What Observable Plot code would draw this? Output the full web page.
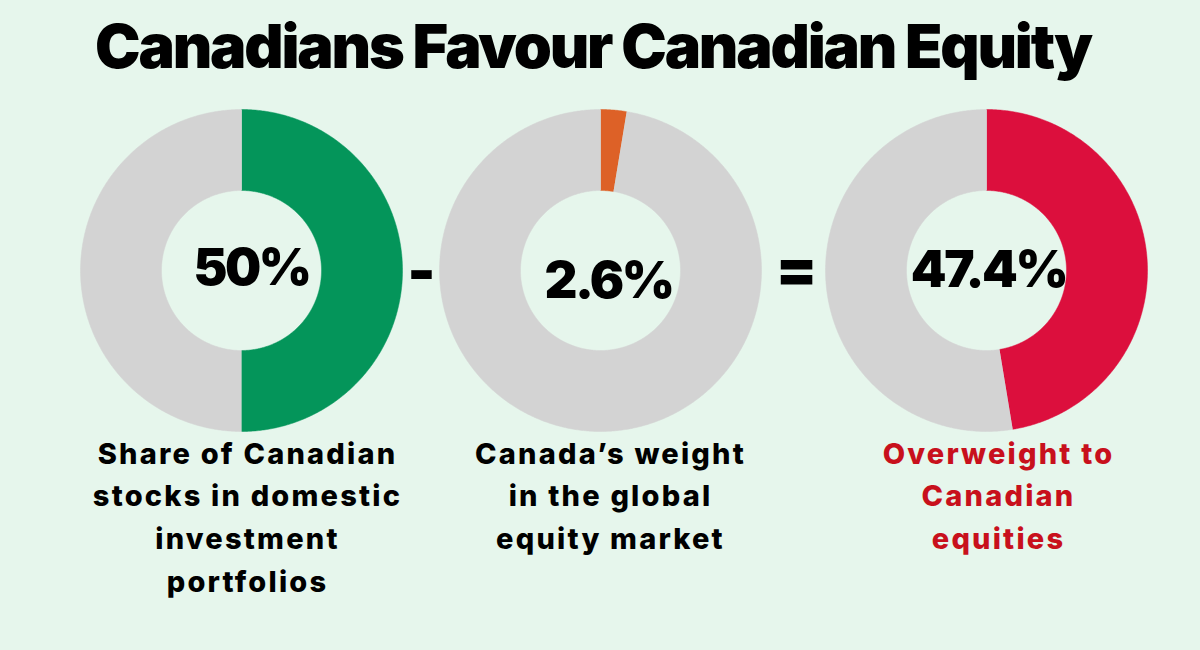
<!DOCTYPE html>
<html>
<head>
<meta charset="utf-8">
<script src="https://cdn.jsdelivr.net/npm/d3@7"></script>
<script src="https://cdn.jsdelivr.net/npm/@observablehq/plot@0.6"></script>
<style>
  html, body { margin: 0; padding: 0; background: #e6f6ec; width: 1200px; height: 650px; overflow: hidden; }
  #title { height: 92px; line-height: 92px; text-align: center; font-family: Inter, "Open Sans", sans-serif; font-weight: 900; font-size: 61px; color: #000; letter-spacing: -2.2px; padding-right: 14px; }
  #chart svg { display: block; }
</style>
</head>
<body>
<div id="title"></div>
<div id="chart"></div>
<script>
// ---- data ----
const titleText = "Canadians Favour Canadian Equity";
const shares = [50, 2.6, 47.4];
const shareLabels = ["50%", "2.6%", "47.4%"];
const descriptions = [
  "Share of Canadian\nstocks in domestic\ninvestment\nportfolios",
  "Canada’s weight\nin the global\nequity market",
  "Overweight to\nCanadian\nequities"
];
const accentColors = ["#04955a", "#dd6127", "#dc0f3d"];
const descColors = ["#000000", "#000000", "#c8101c"];
const operators = ["-", "="];

document.getElementById("title").textContent = titleText;

// ---- layout (page pixel coordinates) ----
const TOP = 92, W = 1200, H = 650;
const centersX = [241, 600, 986];
const centerY = 270;
const rOuter = 161, rInner = 80;
const labelX = [251, 608, 988];
const labelY = [268, 281, 270];
const descX = [247, 610, 998];
const descY = 433;
const opX = [421, 796];
const opY = [272, 270];
const rest = "#d3d3d3";

// build donut segment polygons from the share values
const polys = [];
shares.forEach((v, i) => {
  const segs = [
    {id: `a${i}`, a0: 0, a1: v / 100 * 2 * Math.PI, color: accentColors[i]},
    {id: `r${i}`, a0: v / 100 * 2 * Math.PI, a1: 2 * Math.PI, color: rest}
  ];
  for (const s of segs) {
    const n = Math.max(2, Math.ceil((s.a1 - s.a0) / (Math.PI / 360)));
    for (let k = 0; k <= n; k++) {
      const a = s.a0 + (s.a1 - s.a0) * k / n;
      polys.push({id: s.id, color: s.color, x: centersX[i] + rOuter * Math.sin(a), y: centerY - rOuter * Math.cos(a)});
    }
    for (let k = n; k >= 0; k--) {
      const a = s.a0 + (s.a1 - s.a0) * k / n;
      polys.push({id: s.id, color: s.color, x: centersX[i] + rInner * Math.sin(a), y: centerY - rInner * Math.cos(a)});
    }
  }
});

const centerTexts = shareLabels.map((t, i) => ({t, x: labelX[i], y: labelY[i]}));
const descTexts = descriptions.map((t, i) => ({t, x: descX[i], y: descY, c: descColors[i]}));
const opTexts = operators.map((t, i) => ({t, x: opX[i], y: opY[i]}));

const font = "Inter, 'Open Sans', sans-serif";

const plot = Plot.plot({
  width: W,
  height: H - TOP,
  margin: 0,
  style: {background: "transparent", fontFamily: font},
  x: {domain: [0, W], range: [0, W], axis: null},
  y: {domain: [TOP, H], range: [0, H - TOP], axis: null},
  marks: [
    Plot.line(polys, {x: "x", y: "y", z: "id", fill: "color", stroke: "color", strokeWidth: 0.5, curve: "linear"}),
    Plot.text(centerTexts, {x: "x", y: "y", text: "t", fontSize: 51, fontWeight: 900, fill: "#000", textAnchor: "middle", lineAnchor: "middle"}),
    Plot.text(opTexts, {x: "x", y: "y", text: "t", fontSize: 60, fontWeight: 900, fill: "#000", textAnchor: "middle", lineAnchor: "middle"}),
    Plot.text(descTexts, {x: "x", y: "y", text: "t", fill: "c", fontSize: 29, fontWeight: 800, lineHeight: 1.47, textAnchor: "middle", lineAnchor: "top"})
  ]
});
const textGroups = plot.querySelectorAll('g[aria-label="text"]');
if (textGroups[0]) textGroups[0].setAttribute("letter-spacing", "-2.5");
if (textGroups[2]) textGroups[2].setAttribute("letter-spacing", "2.2");
document.getElementById("chart").appendChild(plot);
</script>
</body>
</html>
